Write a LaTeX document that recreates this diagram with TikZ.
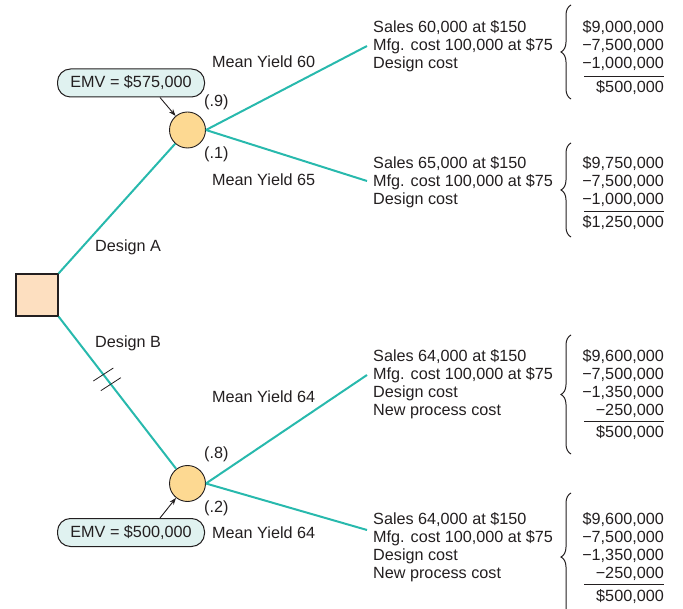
\documentclass[tikz,border=0pt]{standalone}
\usepackage{fontspec}
\setmainfont{Liberation Sans}
\usetikzlibrary{arrows.meta,decorations.pathreplacing,calc}
\definecolor{teal1}{RGB}{40,185,173}
\definecolor{peach}{RGB}{253,223,192}
\definecolor{gold}{RGB}{253,217,146}
\definecolor{mint}{RGB}{224,242,240}
\definecolor{ink}{RGB}{35,31,32}
\begin{document}
\begin{tikzpicture}[x=1pt,y=-1pt,
  lbl/.style={anchor=base west,inner sep=0,font=\fontsize{16.2}{18}\selectfont,text=ink},
  num/.style={anchor=base east,inner sep=0,font=\fontsize{16.2}{18}\selectfont,text=ink},
  branch/.style={draw=teal1,line width=2pt},
  chance/.style={circle,draw=ink,line width=0.9pt,fill=gold,minimum size=36pt,inner sep=0},
  decision/.style={rectangle,draw=ink,line width=1.2pt,fill=peach,minimum size=42pt,inner sep=0},
  emvbox/.style={rounded corners=13pt,draw=ink,line width=1pt,fill=mint,minimum width=147pt,minimum height=28pt,inner sep=0,font=\fontsize{16.2}{18}\selectfont,text=ink},
  pointer/.style={draw=ink,line width=0.9pt,-{Stealth[length=7pt,width=5pt]}},
  sumline/.style={draw=ink,line width=0.8pt},
  bracket/.style={draw=ink,line width=1pt,decorate,decoration={brace,amplitude=10pt,aspect=0.5}},
  hash/.style={draw=ink,line width=0.8pt}]
\useasboundingbox (0,0) rectangle (683,609);
\clip (0,0) rectangle (683,609);

% decision and chance nodes
\node[decision] (sq) at (37,295) {};
\node[chance] (c1) at (187.5,130) {};
\node[chance] (c2) at (187.5,483.5) {};

% EMV boxes
\node[emvbox] (emv1) at (131,83) {EMV = \$575,000};
\node[emvbox] (emv2) at (131,532.5) {EMV = \$500,000};
\draw[pointer] ($(emv1.south)+(29,0)$) -- (c1);
\draw[pointer] ($(emv2.north)+(29,0)$) -- (c2);

% branch ends
\coordinate (e1) at (367,46);
\coordinate (e2) at (367,181);
\coordinate (e3) at (367,375);
\coordinate (e4) at (367,530);

\draw[branch] (sq.north east) -- (c1);
\draw[branch] (sq.south east) -- (c2);
\draw[branch] (c1.east) -- (e1);
\draw[branch] (c1.east) -- (e2);
\draw[branch] (c2.east) -- (e3);
\draw[branch] (c2.east) -- (e4);

% hash marks on Design B
\coordinate (h1) at ($(sq.south east)!0.347!(c2.center)$);
\coordinate (h2) at ($(sq.south east)!0.405!(c2.center)$);
\draw[hash] ($(h1)+(-10,6.5)$) -- ($(h1)+(10,-6.5)$);
\draw[hash] ($(h2)+(-10,6.5)$) -- ($(h2)+(10,-6.5)$);

% branch labels
\node[lbl] (da) at (95,251.5) {Design A};
\node[lbl] (db) at (95,347.5) {Design B};
\node[lbl] (my60) at (212,67.5) {Mean Yield 60};
\node[lbl] (p9) at (204,107) {(.9)};
\node[lbl] (p1) at (204,159) {(.1)};
\node[lbl] (my65) at (212,185.5) {Mean Yield 65};
\node[lbl] (my64a) at (212,402.5) {Mean Yield 64};
\node[lbl] (p8) at (204,459) {(.8)};
\node[lbl] (p2) at (204,512) {(.2)};
\node[lbl] (my64b) at (212,538.5) {Mean Yield 64};

% outcome 1
\node[lbl] (a1) at (373,33) {Sales 60,000 at \$150};
\node[lbl] (a2) at (373,51) {Mfg. cost 100,000 at \$75};
\node[lbl] (a3) at (373,69) {Design cost};
\node[num] (an1) at (664,33) {\$9,000,000};
\node[num] (an2) at (664,51) {−7,500,000};
\node[num] (an3) at (664,69) {−1,000,000};
\coordinate (au1) at (584,76);
\coordinate (au2) at (664,76);
\draw[sumline] (au1) -- (au2);
\node[num] (at) at (664,93) {\$500,000};
\coordinate (ab1) at (571,99);
\coordinate (ab2) at (571,5);
\draw[bracket] (ab1) -- (ab2);

% outcome 2
\node[lbl] (b1) at (373,168.5) {Sales 65,000 at \$150};
\node[lbl] (b2) at (373,187) {Mfg. cost 100,000 at \$75};
\node[lbl] (b3) at (373,205) {Design cost};
\node[num] (bn1) at (664,168.5) {\$9,750,000};
\node[num] (bn2) at (664,187) {−7,500,000};
\node[num] (bn3) at (664,205) {−1,000,000};
\coordinate (bu1) at (584,211);
\coordinate (bu2) at (664,211);
\draw[sumline] (bu1) -- (bu2);
\node[num] (bt) at (664,228) {\$1,250,000};
\coordinate (bb1) at (571,237);
\coordinate (bb2) at (571,143);
\draw[bracket] (bb1) -- (bb2);

% outcome 3
\node[lbl] (c31) at (373,361.5) {Sales 64,000 at \$150};
\node[lbl] (c32) at (373,379.5) {Mfg. cost 100,000 at \$75};
\node[lbl] (c33) at (373,397.5) {Design cost};
\node[lbl] (c34) at (373,415.5) {New process cost};
\node[num] (cn1) at (664,361.5) {\$9,600,000};
\node[num] (cn2) at (664,379.5) {−7,500,000};
\node[num] (cn3) at (664,397.5) {−1,350,000};
\node[num] (cn4) at (664,415.5) {−250,000};
\coordinate (cu1) at (584,421.5);
\coordinate (cu2) at (664,421.5);
\draw[sumline] (cu1) -- (cu2);
\node[num] (ct) at (664,438) {\$500,000};
\coordinate (cb1) at (571,454);
\coordinate (cb2) at (571,335);
\draw[bracket] (cb1) -- (cb2);

% outcome 4
\node[lbl] (d1) at (373,524.5) {Sales 64,000 at \$150};
\node[lbl] (d2) at (373,542.5) {Mfg. cost 100,000 at \$75};
\node[lbl] (d3) at (373,560.5) {Design cost};
\node[lbl] (d4) at (373,578.5) {New process cost};
\node[num] (dn1) at (664,524.5) {\$9,600,000};
\node[num] (dn2) at (664,542.5) {−7,500,000};
\node[num] (dn3) at (664,560.5) {−1,350,000};
\node[num] (dn4) at (664,578.5) {−250,000};
\coordinate (du1) at (584,584.5);
\coordinate (du2) at (664,584.5);
\draw[sumline] (du1) -- (du2);
\node[num] (dt) at (664,601.5) {\$500,000};
\coordinate (db1) at (571,621);
\coordinate (db2) at (571,493);
\draw[bracket] (db1) -- (db2);
\end{tikzpicture}
\end{document}
